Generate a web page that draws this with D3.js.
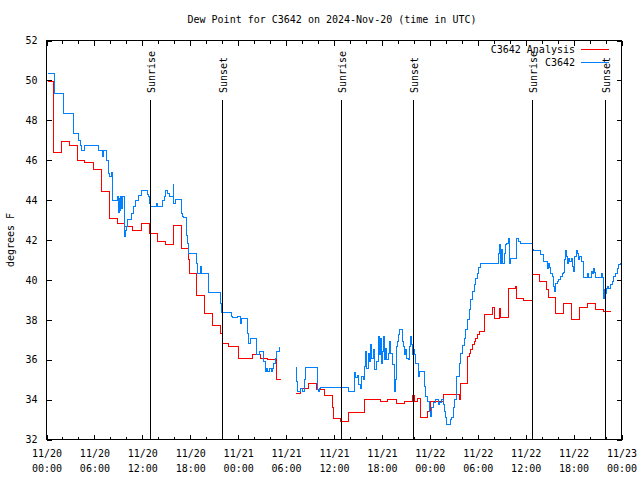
<!DOCTYPE html>
<html><head><meta charset="utf-8">
<script src="https://cdn.jsdelivr.net/npm/d3@7"></script>
<style>
body{margin:0;background:#fff}
svg{display:block}
text{font-family:"DejaVu Sans Mono","Liberation Mono",monospace;font-size:10px;fill:#000}
</style>
</head><body>
<svg id="c" width="640" height="480"></svg>
<script>
const chartTitle = "Dew Point for C3642 on 2024-Nov-20 (time in UTC)";
const yTitle = "degrees F";
const seriesNames = ["C3642 Analysis", "C3642"];
const seriesColors = ["#ff0000", "#0080ff"];
const startTime = "2024-11-20T00:00:00Z";
const endTime = "2024-11-23T00:00:00Z";
const yDomain = [32, 52];
const yTickValues = [32, 34, 36, 38, 40, 42, 44, 46, 48, 50, 52];
const sunLabels = ["Sunrise", "Sunset", "Sunrise", "Sunset", "Sunrise", "Sunset"];
const sunHours = [12.9, 22.0, 36.9, 45.93, 60.83, 69.97];
const sunLineTop = 49;

// C3642 Analysis (hours after start, deg F), null = gap
const analysisHours = [0.2,0.875,1.875,2.83,3.83,4.79,5.83,6.875,7.83,8.875,9.71,10.83,11.875,12.85,13.85,14.875,15.875,16.85,17.8,17.95,18.75,19.75,20.8,21.8,22.05,22.8,24.1,24.8,25.83,26.75,27.7,28.75,29.375,29.4,
 31.25,31.8,32.79,33.85,34.8,35.83,35.96,36.85,37.83,39.79,40.83,41.79,42.7,43.83,44.79,45.83,46.1,46.4,46.79,47.71,48.1,49.7,51.67,51.79,52.75,52.92,53.125,53.33,53.54,53.75,53.96,54.17,54.79,55.83,56.04,56.7,56.85,57.79,58.75,58.9,59.79,60.8,61.7,62.6,62.9,63.75,64.7,65.7,66.8,67.7,68.75,69.8,70.7];
const analysisValues = [49.95,46.38,46.95,46.75,46.0,45.9,45.55,44.45,43.1,42.83,42.67,42.5,42.83,42.33,41.92,41.75,42.75,41.58,41.0,40.33,39.23,38.33,37.73,37.33,36.83,36.67,36.05,36.08,36.25,36.05,36.0,35.03,35.03,null,
 34.3,34.58,34.83,34.5,34.2,33.58,33.03,32.88,33.33,34.03,33.98,33.92,33.98,33.8,33.9,34.2,33.92,34.05,33.08,33.42,33.88,34.25,34.0,34.8,36.17,36.33,36.5,36.75,36.92,37.08,37.25,37.42,38.28,38.63,38.05,38.58,38.13,39.58,39.65,39.08,38.98,40.28,39.92,39.5,39.13,38.3,38.83,38.03,38.63,38.83,38.53,38.4,38.4];

// C3642 observations
const obsHours = [0.21,1.04,2.08,3.33,3.42,4.04,4.29,4.375,4.71,4.79,6.54,7.0,7.17,7.54,7.79,7.92,8.2,8.29,8.875,9.0,9.1,9.2,9.3,9.4,9.5,9.71,9.875,10.0,10.2,10.625,10.9,11.2,11.46,11.875,12.625,12.79,12.9,13.04,13.8,13.875,14.58,14.79,14.875,15.125,15.4,15.92,15.96,16.125,16.875,17.08,17.2,17.5,17.625,17.83,18.83,18.875,19.29,19.375,20.29,21.75,21.96,23.125,23.33,23.96,24.29,24.375,25.21,25.33,25.5,26.33,26.67,27.21,27.375,27.54,27.7,27.9,28.125,28.3,28.46,28.625,28.75,29.17,29.3,29.35,
 31.25,31.33,31.46,31.8,32.08,32.29,32.42,33.96,34.1,34.2,34.29,37.83,38.54,38.7,38.9,39.08,39.29,39.5,39.7,39.79,40.0,40.1,40.3,40.5,40.625,40.75,41.0,41.125,41.3,41.54,41.67,41.79,41.96,42.08,42.21,42.375,42.5,42.625,42.79,42.92,43.125,43.33,43.54,43.67,43.83,43.96,44.04,44.25,
 44.375,44.58,44.71,44.875,45.0,45.125,45.29,45.42,45.54,45.67,45.83,45.96,46.125,46.25,46.54,46.71,47.375,47.5,47.71,47.92,48.04,48.21,48.46,48.75,49.04,49.17,49.46,49.71,49.875,50.0,50.125,50.54,50.71,50.96,51.125,51.375,51.67,51.875,52.08,52.29,52.5,52.71,52.92,53.125,53.33,53.54,53.75,53.96,54.1,54.29,56.54,56.67,56.79,57.0,57.125,57.29,57.5,57.625,57.875,57.96,58.125,58.875,59.04,59.375,
 60.83,61.04,61.875,62.21,62.71,62.83,62.96,63.125,63.33,63.54,63.67,63.79,63.96,64.17,64.375,64.58,64.79,64.92,65.0,65.125,65.29,65.42,65.54,65.71,65.83,65.96,66.125,66.375,66.54,66.67,66.79,66.96,67.21,67.29,67.71,67.92,68.21,68.33,68.46,68.625,68.75,69.46,69.58,69.71,69.79,69.92,70.0,70.125,70.29,70.42,70.625,70.83,71.04,71.25,71.46,71.67,71.875];
const obsValues = [50.33,49.33,48.33,47.83,47.33,47.0,46.75,46.5,46.63,46.73,46.5,46.17,46.5,46.0,45.33,45.17,45.4,44.0,44.2,43.4,44.1,43.5,44.2,43.6,44.17,42.17,42.5,42.7,43.03,43.33,43.67,44.0,44.25,44.47,44.3,44.17,43.83,43.67,43.83,43.67,44.0,44.17,44.47,44.33,44.2,44.8,43.83,44.03,43.33,43.17,43.13,42.25,41.83,41.33,40.83,40.33,40.67,40.33,39.38,38.83,38.38,38.17,38.12,38.17,37.83,38.08,37.33,36.83,37.08,36.25,36.42,35.92,35.42,35.58,35.42,35.58,35.42,35.58,35.83,36.08,36.42,36.63,36.63,null,
 35.63,34.9,34.42,34.58,34.42,35.0,35.63,34.5,34.42,34.58,34.63,34.42,35.38,35.1,35.2,34.75,34.58,35.17,35.0,35.67,36.42,35.58,36.33,35.9,36.75,36.08,36.5,35.5,35.9,37.17,36.25,37.08,35.83,36.4,37.17,36.0,36.58,36.0,36.33,36.92,36.33,35.75,34.42,35.0,36.67,36.92,37.25,37.5,
 37.5,36.92,36.67,36.25,36.5,36.08,36.0,36.67,37.17,36.75,36.25,36.5,36.25,35.83,35.17,35.42,34.67,34.17,33.92,33.42,33.17,33.58,33.83,34.03,33.75,33.87,34.0,33.75,33.42,33.08,32.75,33.0,33.08,33.58,34.0,35.17,35.83,36.33,36.7,37.08,37.5,38.0,38.5,39.0,39.4,39.75,40.05,40.33,40.6,40.8,41.33,41.75,40.8,41.5,40.8,41.33,41.75,41.83,42.08,40.83,41.08,42.08,41.92,41.8,
 41.53,41.47,41.25,40.92,40.58,40.83,40.63,40.33,40.17,39.67,39.42,39.83,39.92,40.0,40.17,40.33,40.37,41.0,41.47,41.17,40.83,41.08,40.92,41.08,40.67,40.42,41.17,41.47,41.3,41.0,41.17,40.92,40.58,40.12,40.33,40.12,40.42,40.33,40.58,40.37,40.12,40.33,40.12,39.42,39.08,39.5,39.33,39.58,39.67,39.58,39.75,39.92,40.17,40.33,40.58,40.75,40.87];

const t0 = new Date(startTime), t1 = new Date(endTime);
const toDate = h => new Date(t0.getTime() + h * 3600e3);
const L = 46.5, R = 621.5, T = 40.5, B = 439.5;

const svg = d3.select("#c");
const x = d3.scaleUtc().domain([t0, t1]).range([L, R]);
const y = d3.scaleLinear().domain(yDomain).range([B, T]);

// title
svg.append("text").attr("x", 332).attr("y", 23).attr("text-anchor", "middle").text(chartTitle);
// y title
svg.append("text").attr("transform", "translate(14,240) rotate(-90)").attr("text-anchor", "middle").text(yTitle);

const minorTicks = d3.utcHour.every(2).range(t0, new Date(t1.getTime() + 1));
const majorTicks = d3.utcHour.every(6).range(t0, new Date(t1.getTime() + 1));

// bottom minor
svg.append("g").attr("transform", `translate(0,${B})`)
  .call(d3.axisBottom(x).tickValues(minorTicks).tickSize(-3).tickFormat(""))
  .call(g => g.select(".domain").remove());
// top minor
svg.append("g").attr("transform", `translate(0,${T})`)
  .call(d3.axisTop(x).tickValues(minorTicks).tickSize(-3).tickFormat(""))
  .call(g => g.select(".domain").remove());
// top major
svg.append("g").attr("transform", `translate(0,${T})`)
  .call(d3.axisTop(x).tickValues(majorTicks).tickSize(-5).tickFormat(""))
  .call(g => g.select(".domain").remove());
// bottom major with labels
const fmtDate = d3.utcFormat("%m/%d"), fmtTime = d3.utcFormat("%H:%M");
const xb = svg.append("g").attr("transform", `translate(0,${B})`)
  .call(d3.axisBottom(x).tickValues(majorTicks).tickSize(-5).tickPadding(9).tickFormat(fmtDate))
  .call(g => g.select(".domain").remove());
xb.selectAll(".tick text").each(function(d) {
  const t = d3.select(this);
  t.text(null).attr("dy", null).attr("y", 0);
  t.append("tspan").attr("x", 0).attr("y", 17).text(fmtDate(d));
  t.append("tspan").attr("x", 0).attr("y", 32).text(fmtTime(d));
});
// left y
svg.append("g").attr("transform", `translate(${L},0)`)
  .call(d3.axisLeft(y).tickValues(yTickValues).tickSize(-5).tickPadding(9))
  .call(g => g.select(".domain").remove());
// right y
svg.append("g").attr("transform", `translate(${R},0)`)
  .call(d3.axisRight(y).tickValues(yTickValues).tickSize(-5).tickFormat(""))
  .call(g => g.select(".domain").remove());

svg.selectAll(".tick line").attr("stroke", "#000").attr("shape-rendering", "crispEdges");
svg.selectAll("g text").attr("font-family", null).attr("font-size", null).attr("fill", "#000");

// series
const line = d3.line()
  .defined(d => d.v !== null)
  .x(d => x(d.t)).y(d => y(d.v))
  .curve(d3.curveStepAfter);
const analysis = analysisHours.map((h, i) => ({t: toDate(h), v: analysisValues[i]}));
const obs = obsHours.map((h, i) => ({t: toDate(h), v: obsValues[i]}));

svg.append("path").datum(analysis).attr("d", line)
  .attr("fill", "none").attr("stroke", seriesColors[0]).attr("stroke-width", 1).attr("shape-rendering", "crispEdges");
svg.append("path").datum(obs).attr("d", line)
  .attr("fill", "none").attr("stroke", seriesColors[1]).attr("stroke-width", 1).attr("shape-rendering", "crispEdges");

// sun lines
sunHours.forEach((h, i) => {
  const xp = Math.round(x(toDate(h))) + 0.5;
  svg.append("line").attr("x1", xp).attr("x2", xp).attr("y1", y(sunLineTop)).attr("y2", B)
    .attr("stroke", "#000").attr("stroke-width", 1).attr("shape-rendering", "crispEdges");
  svg.append("text").attr("transform", `translate(${xp + 4},93) rotate(-90)`)
    .attr("text-anchor", "start").text(sunLabels[i]);
});

// legend
const legY = [49, 62];
seriesNames.forEach((n, i) => {
  svg.append("text").attr("x", 575).attr("y", legY[i] + 4).attr("text-anchor", "end").text(n);
  svg.append("line").attr("x1", 581).attr("x2", 609).attr("y1", legY[i] + 0.5).attr("y2", legY[i] + 0.5)
    .attr("stroke", seriesColors[i]).attr("stroke-width", 1).attr("shape-rendering", "crispEdges");
});

// border
svg.append("rect").attr("x", L).attr("y", T).attr("width", R - L).attr("height", B - T)
  .attr("fill", "none").attr("stroke", "#000").attr("stroke-width", 1).attr("shape-rendering", "crispEdges");
</script>
</body></html>
